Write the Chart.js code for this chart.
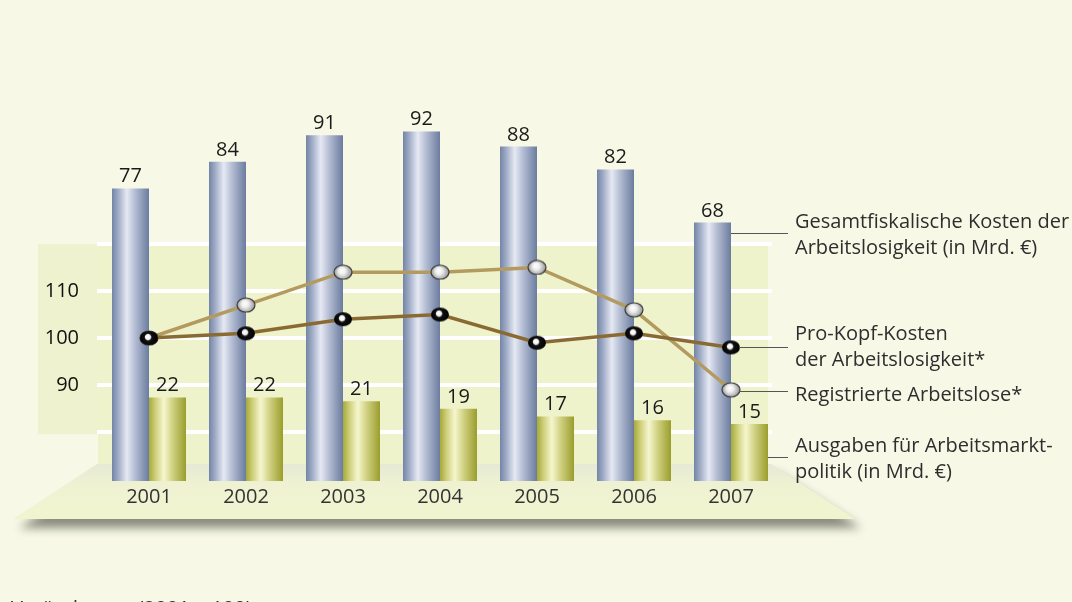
<!DOCTYPE html>
<html>
<head>
<meta charset="utf-8">
<script src="https://cdn.jsdelivr.net/npm/chart.js@4/dist/chart.umd.min.js"></script>
<style>
  html,body{margin:0;padding:0;background:#f7f9e6;}
  #wrap{width:1072px;height:602px;}
</style>
</head>
<body>
<div id="wrap"><canvas id="chart" width="1072" height="602"></canvas></div>
<script>
const years = ['2001','2002','2003','2004','2005','2006','2007'];
const gesamtKosten = [77, 84, 91, 92, 88, 82, 68];      // Mrd. €
const ausgabenAMP = [22, 22, 21, 19, 17, 16, 15];       // Mrd. €
const proKopf = [100, 101, 104, 105, 99, 101, 98];       // 2001 = 100
const registrierte = [100, 107, 114, 114, 115, 106, 89]; // 2001 = 100
const indexTicks = [90, 100, 110];
const indexGrid = [80, 90, 100, 110, 120];

const FONT = '"Open Sans", "Noto Sans", sans-serif';
const CAT = 0.763;

// glossy marker balls
function ball(dark){
  const c = document.createElement('canvas');
  c.width = 20; c.height = 16;
  const g = c.getContext('2d');
  g.beginPath();
  g.ellipse(10, 8, 9, 7, 0, 0, Math.PI*2);
  if(dark){
    const rg = g.createRadialGradient(8.5, 6.5, 0, 10, 8, 9);
    rg.addColorStop(0, '#ffffff');
    rg.addColorStop(0.28, '#f2f2f2');
    rg.addColorStop(0.42, '#111111');
    rg.addColorStop(1, '#000000');
    g.fillStyle = rg; g.fill();
  } else {
    const rg = g.createRadialGradient(8.5, 6, 0, 10, 8, 9.5);
    rg.addColorStop(0, '#ffffff');
    rg.addColorStop(0.35, '#f0f0f0');
    rg.addColorStop(1, '#8c8c8c');
    g.fillStyle = rg; g.fill();
    g.lineWidth = 1.2; g.strokeStyle = '#3a3a3a'; g.stroke();
  }
  return c;
}
const blackBall = ball(true);
const greyBall = ball(false);

function cylinder(stops, fallback, side){
  return (c) => {
    const chart = c.chart, x = chart.scales && chart.scales.x;
    if(!x || c.dataIndex === undefined || !chart.chartArea) return fallback;
    const w = x.width / years.length * CAT / 2;
    const xc = x.getPixelForValue(c.dataIndex) + side * w / 2;
    const g = chart.ctx.createLinearGradient(xc - w/2, 0, xc + w/2, 0);
    stops.forEach(s => g.addColorStop(s[0], s[1]));
    return g;
  };
}
const blueStops = [[0,'#7384a6'],[0.18,'#a3afc9'],[0.4,'#e6e9f3'],[0.62,'#b4bdd3'],[1,'#6b7c9f']];
const greenStops = [[0,'#a6aa38'],[0.18,'#cfd07c'],[0.4,'#f6f6cf'],[0.62,'#d3d487'],[1,'#9a9d2c']];

const backdrop = {
  id: 'backdrop',
  beforeDraw(chart){
    const ctx = chart.ctx;
    ctx.save();
    ctx.fillStyle = '#f7f9e6';
    ctx.fillRect(0, 0, chart.width, chart.height);
    ctx.restore();
  },
  beforeDatasetsDraw(chart){
    const ctx = chart.ctx, y2 = chart.scales.y2, x = chart.scales.x;
    ctx.save();
    // floor with shadow
    ctx.beginPath();
    ctx.moveTo(97, 464); ctx.lineTo(771, 464); ctx.lineTo(855, 519); ctx.lineTo(13, 519); ctx.closePath();
    ctx.shadowColor = 'rgba(50,50,40,0.55)';
    ctx.shadowBlur = 10; ctx.shadowOffsetY = 9; ctx.shadowOffsetX = 6;
    const fg = ctx.createLinearGradient(0, 464, 0, 519);
    fg.addColorStop(0, '#e6e9d5'); fg.addColorStop(0.35, '#eef2d2'); fg.addColorStop(1, '#f1f5cf');
    ctx.fillStyle = fg; ctx.fill();
    ctx.shadowColor = 'transparent';
    // plot panel
    const top = y2.getPixelForValue(120);
    ctx.fillStyle = '#eff3cc';
    ctx.fillRect(98, top, 670, 464 - top);
    // label panel
    ctx.fillStyle = '#eef2cf';
    ctx.fillRect(38, top, 60, y2.getPixelForValue(80) + 2 - top);
    // grid lines
    ctx.strokeStyle = '#ffffff'; ctx.lineWidth = 4;
    indexGrid.forEach(v => {
      const yy = y2.getPixelForValue(v);
      ctx.beginPath(); ctx.moveTo(97, yy); ctx.lineTo(772, yy); ctx.stroke();
    });
    // tick labels
    ctx.fillStyle = '#111'; ctx.font = '20px ' + FONT;
    ctx.textAlign = 'right'; ctx.textBaseline = 'middle';
    indexTicks.forEach(v => ctx.fillText(String(v), 79, y2.getPixelForValue(v)));
    // year labels
    ctx.fillStyle = '#333'; ctx.textAlign = 'center';
    years.forEach((yr, i) => ctx.fillText(yr, x.getPixelForValue(i), 497));
    ctx.restore();
  },
  afterDatasetsDraw(chart){
    const ctx = chart.ctx;
    ctx.save();
    // value labels above bars
    ctx.font = '20px ' + FONT; ctx.fillStyle = '#1a1a1a';
    ctx.textAlign = 'center'; ctx.textBaseline = 'alphabetic';
    [2, 3].forEach(di => {
      const meta = chart.getDatasetMeta(di);
      meta.data.forEach((el, i) => {
        ctx.fillText(String(chart.data.datasets[di].data[i]), el.x, el.y - 6);
      });
    });
    // leader lines
    const last = years.length - 1;
    const blue = chart.getDatasetMeta(2).data[last];
    const green = chart.getDatasetMeta(3).data[last];
    const pk = chart.getDatasetMeta(0).data[last];
    const rg = chart.getDatasetMeta(1).data[last];
    ctx.strokeStyle = '#555'; ctx.lineWidth = 1;
    const lead = (x0, y) => { ctx.beginPath(); ctx.moveTo(x0, Math.round(y) + 0.5); ctx.lineTo(788, Math.round(y) + 0.5); ctx.stroke(); };
    lead(blue.x + blue.width/2, 233);
    lead(pk.x + 8, pk.y);
    lead(rg.x + 8, rg.y + 1);
    lead(green.x + green.width/2, 457);
    // annotations
    ctx.fillStyle = '#2e2e2e'; ctx.textAlign = 'left'; ctx.font = '20px ' + FONT;
    const lines = [
      ['Gesamtfiskalische Kosten der', 228],
      ['Arbeitslosigkeit (in Mrd. €)', 254],
      ['Pro-Kopf-Kosten', 340],
      ['der Arbeitslosigkeit*', 366],
      ['Registrierte Arbeitslose*', 401],
      ['Ausgaben für Arbeitsmarkt-', 452],
      ['politik (in Mrd. €)', 478]
    ];
    lines.forEach(l => ctx.fillText(l[0], 795, l[1]));
    // footnote (cut off at bottom)
    ctx.fillText('Veränderung (2001 = 100)', 11, 614.5);
    ctx.restore();
  }
};

new Chart(document.getElementById('chart'), {
  type: 'bar',
  data: {
    labels: years,
    datasets: [
      {
        type: 'line', label: 'Pro-Kopf-Kosten der Arbeitslosigkeit*', data: proKopf,
        yAxisID: 'y2', order: 0, borderColor: '#8a6a33', borderWidth: 3.5,
        pointStyle: blackBall, tension: 0, fill: false
      },
      {
        type: 'line', label: 'Registrierte Arbeitslose*', data: registrierte,
        yAxisID: 'y2', order: 0, borderColor: '#b39a5e', borderWidth: 3.5,
        pointStyle: greyBall, tension: 0, fill: false
      },
      {
        label: 'Gesamtfiskalische Kosten der Arbeitslosigkeit (in Mrd. €)', data: gesamtKosten,
        yAxisID: 'y', order: 1, backgroundColor: cylinder(blueStops, '#a3afc9', -1),
        categoryPercentage: CAT, barPercentage: 1, borderWidth: 0
      },
      {
        label: 'Ausgaben für Arbeitsmarktpolitik (in Mrd. €)', data: ausgabenAMP,
        yAxisID: 'y', order: 1, backgroundColor: cylinder(greenStops, '#cfd07c', 1),
        categoryPercentage: CAT, barPercentage: 1, borderWidth: 0
      }
    ]
  },
  options: {
    responsive: false,
    animation: false,
    layout: { padding: { left: 100.5, right: 292.5, top: 101, bottom: 121 } },
    plugins: { legend: { display: false }, tooltip: { enabled: false } },
    scales: {
      x: { display: false, offset: true },
      y: { display: false, min: 0, max: 100 },
      y2: { display: false, min: 69.6, max: 150.4 }
    }
  },
  plugins: [backdrop]
});
</script>
</body>
</html>
